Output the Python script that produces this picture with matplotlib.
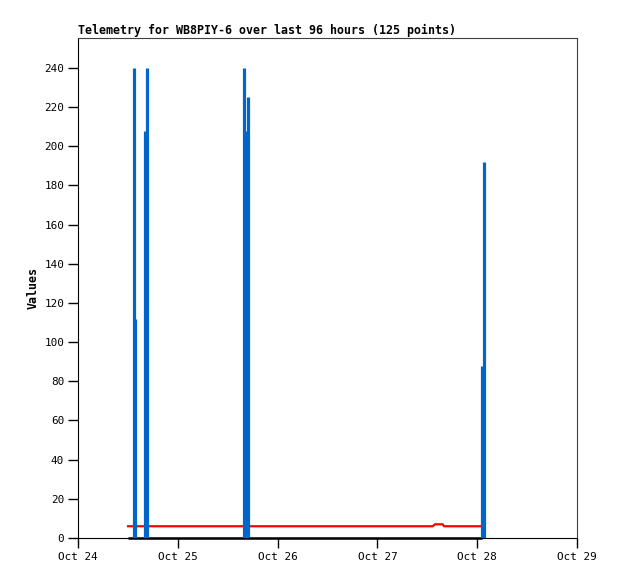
import matplotlib
matplotlib.use("Agg")
import matplotlib.pyplot as plt
import matplotlib.dates as mdates
import pandas as pd

# Blue impulse series (timestamp, value)
blue_times = ["2023-10-24 13:28", "2023-10-24 13:42", "2023-10-24 16:07", "2023-10-24 16:35",
              "2023-10-25 15:55", "2023-10-25 16:24", "2023-10-25 16:59",
              "2023-10-28 01:16", "2023-10-28 01:38"]
blue_values = [240, 112, 208, 240, 240, 208, 225, 88, 192]

# Red line series
red_times = ["2023-10-24 12:02", "2023-10-27 13:18", "2023-10-27 13:51",
             "2023-10-27 15:42", "2023-10-27 16:00", "2023-10-28 01:10"]
red_values = [6, 6, 7, 7, 6, 6]

# Black zero series
black_times = ["2023-10-24 12:02", "2023-10-28 01:10"]
black_values = [0, 0]

x_ticks = ["2023-10-24", "2023-10-25", "2023-10-26", "2023-10-27", "2023-10-28", "2023-10-29"]
y_ticks = list(range(0, 241, 20))

bt = pd.to_datetime(blue_times)
rt = pd.to_datetime(red_times)
kt = pd.to_datetime(black_times)
xt = pd.to_datetime(x_ticks)

fig = plt.figure(figsize=(6.18, 5.79), dpi=100)
ax = fig.add_axes([78/618, 1-538/579, (577-78)/618, (538-38)/579])

ax.plot(kt, black_values, color="black", lw=1.8, solid_capstyle="butt", zorder=2, clip_on=False)
ax.plot(rt, red_values, color="#ff0000", lw=1.6, zorder=3)
ax.vlines(bt, 0, blue_values, color="#0066cc", lw=2.3, zorder=4)

ax.set_xlim(xt[0], xt[-1])
ax.set_ylim(0, 255.3)
ax.set_xticks(xt)
ax.xaxis.set_major_formatter(mdates.DateFormatter("%b %d"))
ax.set_yticks(y_ticks)

mono = "DejaVu Sans Mono"
ax.tick_params(direction="out", length=7, width=1, labelsize=7.9, pad=3, color="black")
for lab in ax.get_xticklabels() + ax.get_yticklabels():
    lab.set_family(mono)

for s in ["top", "right"]:
    ax.spines[s].set_color("#404040")
    ax.spines[s].set_linewidth(0.8)
for s in ["left", "bottom"]:
    ax.spines[s].set_color("black")
    ax.spines[s].set_linewidth(0.8)

ax.set_title("Telemetry for WB8PIY-6 over last 96 hours (125 points)", loc="left",
             family=mono, fontweight="bold", fontsize=8.35, pad=3)
ax.set_ylabel("Values", family=mono, fontweight="bold", fontsize=8.35, labelpad=3)

fig.savefig("out.png", dpi=100)
